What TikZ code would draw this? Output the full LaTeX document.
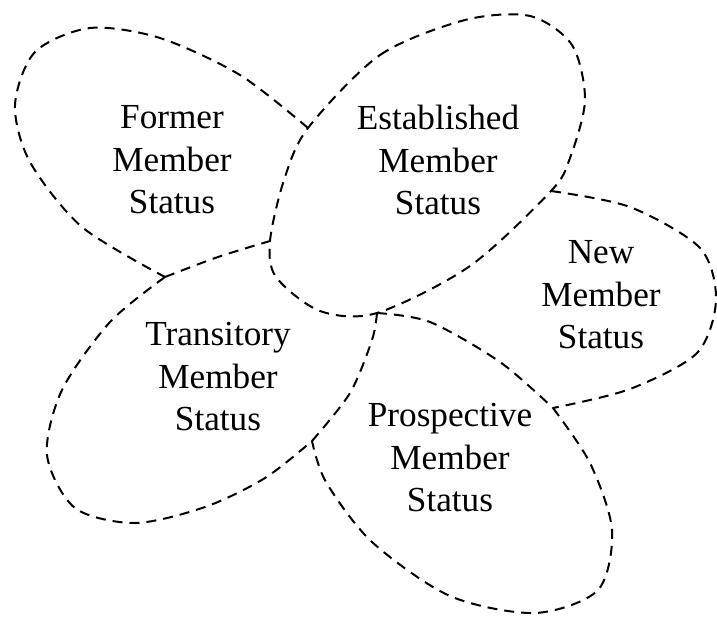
\documentclass[tikz,border=0pt]{standalone}
\usepackage{fontspec}
\setmainfont{Liberation Serif}
\tikzset{
	boundary/.style={line width=1pt, dash pattern=on 5pt off 3.5pt},	% dashed region outline
	status/.style={align=center, inner sep=0pt, font=\fontsize{17.6}{21.25}\selectfont}
}

\begin{document}
\begin{tikzpicture}[x=0.5pt,y=-0.5pt]
	\useasboundingbox (0,0) rectangle (717,616);
	% points where the outlines meet
	\coordinate (j1) at (308,128);
	\coordinate (j2) at (165,277);
	\coordinate (j3) at (270,241);
	\coordinate (j4) at (551,191);
	\coordinate (j5) at (377,313);
	\coordinate (j6) at (553,408);
	\coordinate (j7) at (312,441);
	% established region, drawn whole
	\draw[boundary] plot[smooth cycle] coordinates {(j1) (380,55) (465,20) (530,16) (572,45) (585,100) (570,158) (j4) (470,266) (j5) (320,311) (276,277) (j3) (284,180)};
	% the other regions stop where they reach a neighbour
	\draw[boundary] plot[smooth] coordinates {(j1) (240,75) (160,38) (90,28) (35,52) (15,105) (30,162) (82,227) (j2)};
	\draw[boundary] plot[smooth] coordinates {(j2) (218,257) (j3)};
	\draw[boundary] plot[smooth] coordinates {(j2) (110,322) (62,390) (47,455) (75,508) (135,523) (205,507) (265,478) (j7)};
	\draw[boundary] plot[smooth] coordinates {(j7) (350,393) (372,340) (j5)};
	\draw[boundary] plot[smooth] coordinates {(j5) (430,322) (500,362) (j6)};
	\draw[boundary] plot[smooth] coordinates {(j6) (590,463) (612,530) (598,590) (535,613) (450,596) (372,542) (326,482) (j7)};
	\draw[boundary] plot[smooth] coordinates {(j4) (630,207) (700,248) (716,300) (697,353) (630,389) (j6)};
	% labels
	\node[status] (former) at (172,160) {Former\\Member\\Status};
	\node[status] (established) at (438,160) {Established\\Member\\Status};
	\node[status] (new) at (601,295) {New\\Member\\Status};
	\node[status] (transitory) at (218,377) {Transitory\\Member\\Status};
	\node[status] (prospective) at (450,458) {Prospective\\Member\\Status};
\end{tikzpicture}
\end{document}
